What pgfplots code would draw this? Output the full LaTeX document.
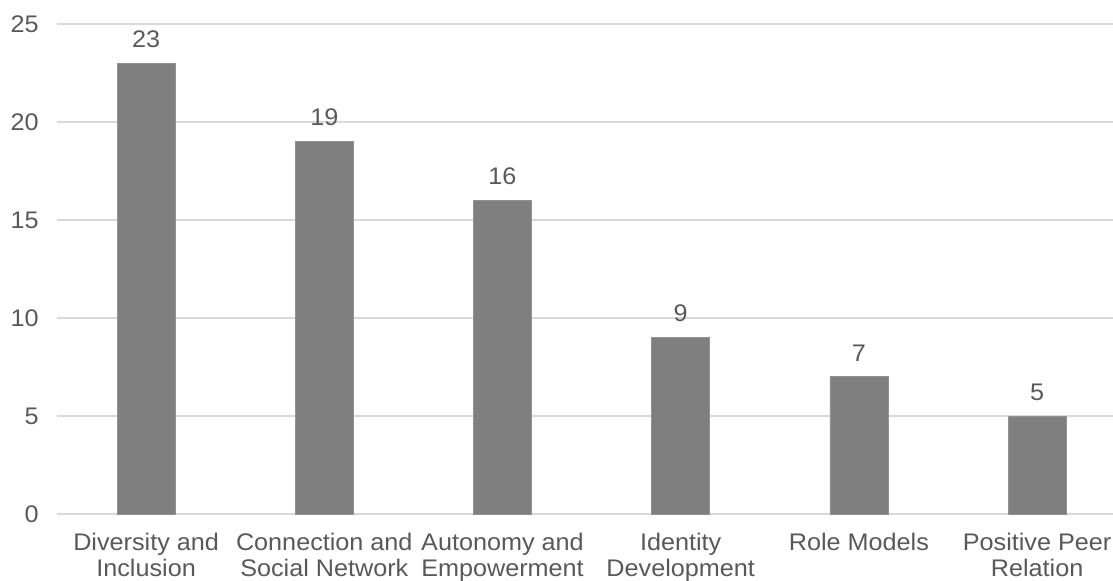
\documentclass[border=0pt]{standalone}
\usepackage{pgfplots}
\pgfplotsset{compat=1.18}
\usepackage{fontspec}
\setmainfont{Liberation Sans}[FakeStretch=1.05]
\definecolor{txtgray}{HTML}{595959}
\definecolor{gridgray}{HTML}{D9D9D9}
\definecolor{bargray}{HTML}{7F7F7F}
\begin{document}
\begin{tikzpicture}
\begin{axis}[
  at={(28.5pt,33pt)}, anchor=south west,
  scale only axis, width=528pt, height=245pt,
  xmin=-0.5, xmax=5.426, ymin=0, ymax=25,
  axis line style={draw=none},
  ymajorgrids, grid style={gridgray, line width=0.8pt},
  ytick={0,5,...,25}, xtick=data,
  xticklabels={{Diversity and\\Inclusion},{Connection and\\Social Network},{Autonomy and\\Empowerment},{Identity\\Development},{Role Models},{Positive Peer\\Relation}},
  major tick length=0pt,
  /pgf/number format/assume math mode=true,
  tick label style={font=\fontsize{12}{13}\selectfont, text=txtgray},
  yticklabel style={anchor=east, inner sep=0pt, xshift=-9pt},
  xticklabel style={align=center, anchor=north, inner sep=0pt, yshift=-9.5pt},
  ybar, bar width=29pt,
  nodes near coords,
  every node near coord/.append style={font=\fontsize{12}{13}\selectfont, text=txtgray, inner sep=0pt, anchor=south, yshift=7.5pt},
  clip=false,
]
\addplot[fill=bargray, draw=bargray!85!white, line width=0.4pt] coordinates {(0,23) (1,19) (2,16) (3,9) (4,7) (5,5)};
\end{axis}
\pgfresetboundingbox
\path (0,0) rectangle (556.5pt,290pt);
\end{tikzpicture}
\end{document}
